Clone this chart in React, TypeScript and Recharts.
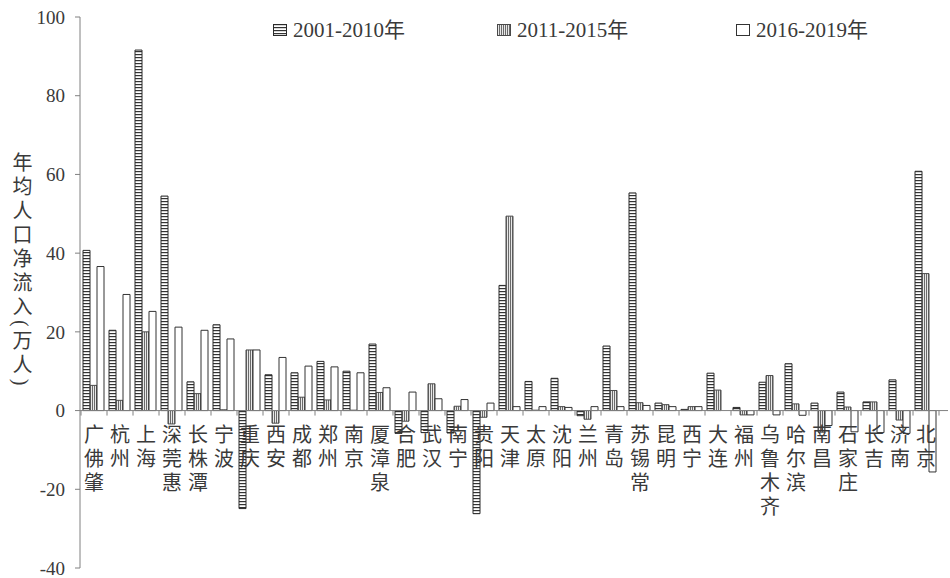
import React from "react";
import { BarChart, Bar, XAxis, YAxis, ReferenceLine, Legend } from "recharts";

const cities = ["广佛肇", "杭州", "上海", "深莞惠", "长株潭", "宁波", "重庆", "西安", "成都", "郑州", "南京", "厦漳泉", "合肥", "武汉", "南宁", "贵阳", "天津", "太原", "沈阳", "兰州", "青岛", "苏锡常", "昆明", "西宁", "大连", "福州", "乌鲁木齐", "哈尔滨", "南昌", "石家庄", "长吉", "济南", "北京"];
const v2001_2010 = [40.7, 20.4, 91.6, 54.5, 7.3, 21.8, -24.9, 9.1, 9.6, 12.5, 10.0, 16.9, -5.8, -5.6, -5.7, -26.2, 31.8, 7.4, 8.2, -1.3, 16.4, 55.3, 1.9, 0.3, 9.5, 0.8, 7.2, 11.9, 1.9, 4.7, 2.2, 7.8, 60.8];
const v2011_2015 = [6.4, 2.6, 20.0, -3.4, 4.3, 0.2, 15.4, -3.2, 3.4, 2.7, 0.1, 4.6, -2.7, 6.8, 1.1, -1.7, 49.4, 0.1, 1.0, -2.2, 5.1, 2.0, 1.5, 1.0, 5.2, -1.1, 8.9, 1.7, -5.5, 0.9, 2.2, -2.4, 34.8];
const v2016_2019 = [36.6, 29.5, 25.2, 21.2, 20.4, 18.2, 15.4, 13.5, 11.3, 11.1, 9.6, 5.8, 4.7, 3.0, 2.8, 1.9, 1.0, 1.0, 0.8, 1.0, 1.0, 1.3, 1.0, 1.0, 0.0, -1.1, -1.1, -1.2, -3.8, -5.4, -5.6, -5.8, -15.6];
const seriesNames = ["2001-2010年", "2011-2015年", "2016-2019年"];
const yTicks = [-40, -20, 0, 20, 40, 60, 80, 100];
const yTitle = "年均人口净流入(万人)";

const data = cities.map((city, i) => ({
  city,
  a: v2001_2010[i],
  b: v2011_2015[i],
  c: v2016_2019[i],
}));

const W = 950;
const H = 578;
const MARGIN = { top: 17, right: 2, bottom: 0, left: 0 };
const Y_AXIS_W = 80;
const X_AXIS_H = 10;
const X_PAD = { left: 1, right: 9 };
const Y_MIN = -40;
const Y_MAX = 100;
const PLOT_H = H - MARGIN.top - MARGIN.bottom - X_AXIS_H;
const ZERO_Y = MARGIN.top + (PLOT_H * Y_MAX) / (Y_MAX - Y_MIN);
const PLOT_W = W - MARGIN.left - MARGIN.right - Y_AXIS_W;
const BAND = (PLOT_W - X_PAD.left - X_PAD.right) / cities.length;

const SERIF = '"Liberation Serif", "Times New Roman", "Noto Sans CJK SC", serif';
const TEXT = "#3a3a3a";
const AXIS = "#808080";

const fills = ["url(#hstripe)", "url(#vstripe)", "#ffffff"];
const strokes = ["#2a2a2a", "#4a4a4a", "#333333"];

function CityTick(props: any) {
  const { x, payload, index } = props;
  const chars = Array.from(String(payload.value));
  const left = x - BAND / 2;
  return (
    <g>
      <line x1={left} x2={left} y1={ZERO_Y} y2={ZERO_Y + 5} stroke={AXIS} />
      {index === cities.length - 1 && (
        <line x1={x + BAND / 2} x2={x + BAND / 2} y1={ZERO_Y} y2={ZERO_Y + 5} stroke={AXIS} />
      )}
      <text textAnchor="middle" fontSize={20} fill={TEXT} fontFamily={SERIF}>
        {chars.map((ch, i) => (
          <tspan key={i} x={x} y={ZERO_Y + 31 + i * 24}>
            {ch}
          </tspan>
        ))}
      </text>
    </g>
  );
}

function YTitle() {
  return (
    <text
      x={21}
      y={152}
      fontSize={20}
      fill={TEXT}
      fontFamily={SERIF}
      style={{ writingMode: "vertical-rl", letterSpacing: "4px" } as any}
    >
      {yTitle}
    </text>
  );
}

const LEG_X = [0, 224, 463];

function LegendContent() {
  return (
    <div style={{ position: "relative", width: 640, height: 24, fontFamily: SERIF, fontSize: 21, color: TEXT }}>
      {seriesNames.map((n, i) => (
        <div
          key={n}
          style={{ position: "absolute", left: LEG_X[i], top: 0, height: 24, display: "flex", alignItems: "center", whiteSpace: "nowrap" }}
        >
          <svg width={15} height={12} style={{ display: "block" }}>
            <rect x={0.5} y={0.5} width={13} height={11} fill={fills[i]} stroke={strokes[i]} />
          </svg>
          <span style={{ marginLeft: 5, lineHeight: "24px" }}>{n}</span>
        </div>
      ))}
    </div>
  );
}

export default function App() {
  return (
    <div style={{ width: W, height: H, position: "relative", background: "#fff" }}>
      <style>{"body{margin:0;background:#fff}"}</style>
      <svg width={0} height={0} style={{ position: "absolute" }}>
        <defs>
          <pattern id="hstripe" patternUnits="userSpaceOnUse" width={4} height={3}>
            <rect x={0} y={0} width={4} height={3} fill="#ffffff" />
            <rect x={0} y={0} width={4} height={1.2} fill="#333333" />
          </pattern>
          <pattern id="vstripe" patternUnits="userSpaceOnUse" width={2} height={4}>
            <rect x={0} y={0} width={2} height={4} fill="#e8e8e8" />
            <rect x={0} y={0} width={1} height={4} fill="#6a6a6a" />
          </pattern>
        </defs>
      </svg>
      <BarChart width={W} height={H} data={data} margin={MARGIN} barCategoryGap={2} barGap={0}>
        <XAxis
          dataKey="city"
          height={X_AXIS_H}
          padding={X_PAD}
          axisLine={false}
          tickLine={false}
          interval={0}
          tick={<CityTick />}
        />
        <YAxis
          width={Y_AXIS_W}
          domain={[Y_MIN, Y_MAX]}
          ticks={yTicks}
          interval={0}
          allowDataOverflow
          axisLine={{ stroke: AXIS }}
          tickLine={{ stroke: AXIS }}
          tickSize={5}
          tickMargin={10}
          tick={{ fontSize: 19, fill: TEXT, fontFamily: SERIF }}
          label={<YTitle />}
        />
        <ReferenceLine y={0} stroke={AXIS} strokeWidth={1} ifOverflow="extendDomain" />
        <Legend
          verticalAlign="middle"
          align="center"
          layout="horizontal"
          wrapperStyle={{ top: 18, left: 273, width: 640, height: 24 }}
          content={<LegendContent />}
        />
        <Bar dataKey="a" name={seriesNames[0]} fill={fills[0]} stroke={strokes[0]} strokeWidth={1} isAnimationActive={false} />
        <Bar dataKey="b" name={seriesNames[1]} fill={fills[1]} stroke={strokes[1]} strokeWidth={1} isAnimationActive={false} />
        <Bar dataKey="c" name={seriesNames[2]} fill={fills[2]} stroke={strokes[2]} strokeWidth={1} isAnimationActive={false} />
      </BarChart>
    </div>
  );
}
